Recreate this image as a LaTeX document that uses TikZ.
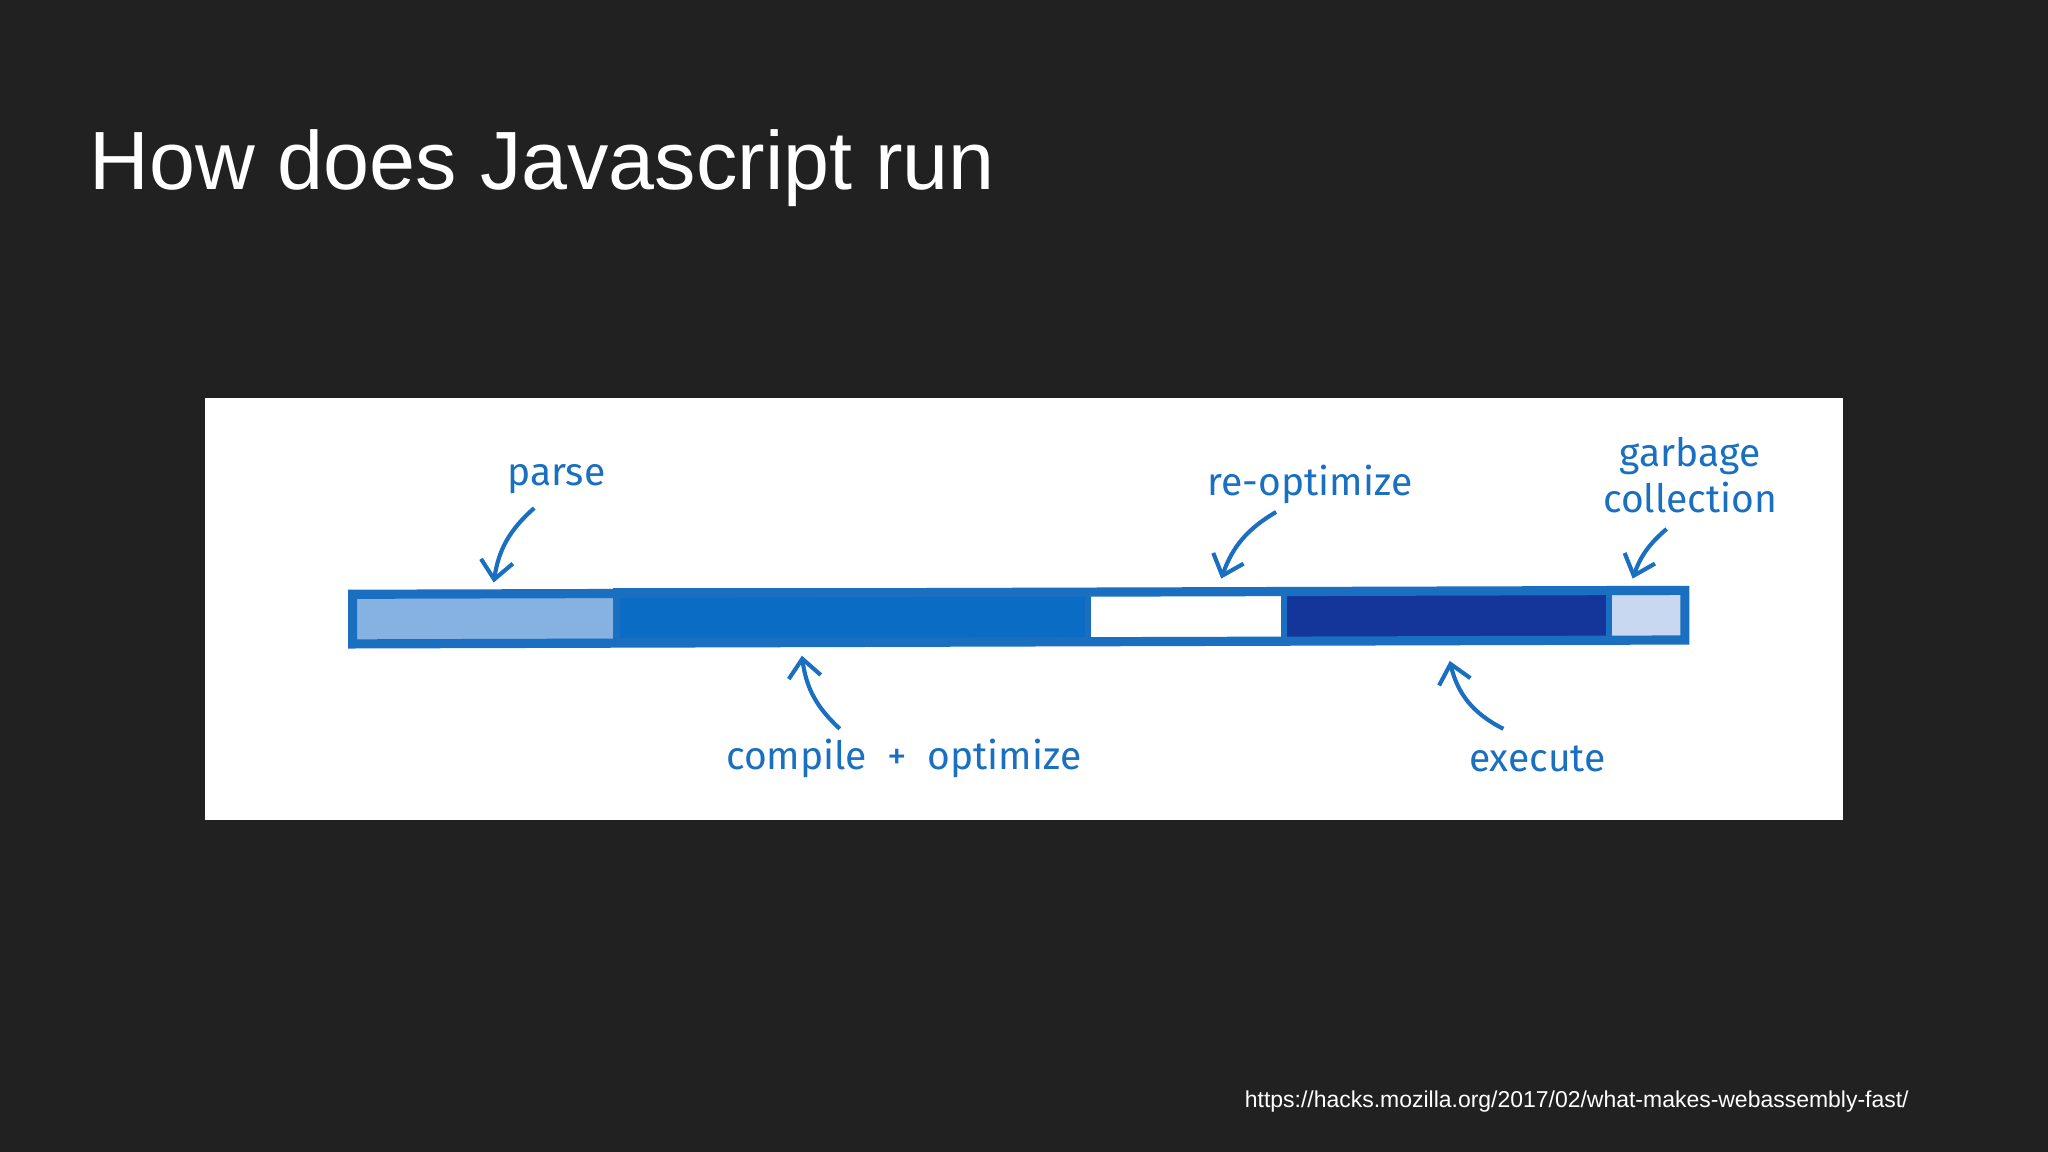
\documentclass[tikz,border=0pt]{standalone}
\usepackage{fontspec}
\setmainfont{Liberation Sans}
\newfontfamily\handfont{Fira Sans}
\usetikzlibrary{arrows.meta}
\definecolor{bg}{HTML}{212121}
\definecolor{ink}{HTML}{1A6FC0}
\definecolor{cparse}{HTML}{86B2E2}
\definecolor{ccomp}{HTML}{0A6CC4}
\definecolor{cexec}{HTML}{14359A}
\definecolor{cgc}{HTML}{C8D8F0}
\tikzset{
  seg/.style={draw=ink,line width=1.4pt},
  lbl/.style={text=ink,font=\handfont\fontsize{8.5}{10}\selectfont,align=center},
  arr/.style={draw=ink,line width=0.9pt,-{Straight Barb[length=4pt,width=7pt]}}
}
\begin{document}
\begin{tikzpicture}[x=0.01cm,y=-0.01cm]
\fill[bg] (0,0) rectangle (1568,882);
\useasboundingbox (0,0) rectangle (1568,882);
\node[anchor=base west,text=white,font=\fontsize{18}{20}\selectfont,inner sep=0] (title) at (68,145) {How does Javascript run};
\fill[white] (157,305) rectangle (1411,628);
\node[seg,fill=cparse,minimum width=202\pgflinewidth,inner sep=0,anchor=north west] (p) at (270,455) {};
\filldraw[seg,fill=cparse] (270,455) rectangle (472,493);
\filldraw[seg,fill=ccomp] (472,453) rectangle (833,491);
\filldraw[seg,fill=white] (833,454) rectangle (983,492);
\filldraw[seg,fill=cexec] (983,453) rectangle (1232,491);
\filldraw[seg,fill=cgc] (1232,452) rectangle (1290,490);
\draw[ink,line width=2pt] (270,455) -- (1290,452) -- (1290,490) -- (270,493) -- cycle;
\node[lbl] (parse) at (426,367) {parse};
\node[lbl] (reopt) at (1003,371) {re-optimize};
\node[lbl] (gc) at (1294,364) {garbage\\collection};
\node[lbl] (comp) at (692,581) {compile \ + \ optimize};
\node[lbl] (exec) at (1177,581) {execute};
\coordinate (pa) at (409,389); \coordinate (pb) at (378,446);
\draw[arr] (pa) to[bend right=20] (pb);
\coordinate (ra) at (977,392); \coordinate (rb) at (935,443);
\draw[arr] (ra) to[bend right=20] (rb);
\coordinate (ga) at (1276,405); \coordinate (gb) at (1250,443);
\draw[arr] (ga) to[bend right=15] (gb);
\coordinate (ca) at (643,558); \coordinate (cb) at (614,502);
\draw[arr] (ca) to[bend left=20] (cb);
\coordinate (ea) at (1151,558); \coordinate (eb) at (1110,506);
\draw[arr] (ea) to[bend left=25] (eb);
\node[anchor=base east,text=white,font=\fontsize{5}{6}\selectfont,inner sep=0] (url) at (1462,848) {https://hacks.mozilla.org/2017/02/what-makes-webassembly-fast/};
\end{tikzpicture}
\end{document}
